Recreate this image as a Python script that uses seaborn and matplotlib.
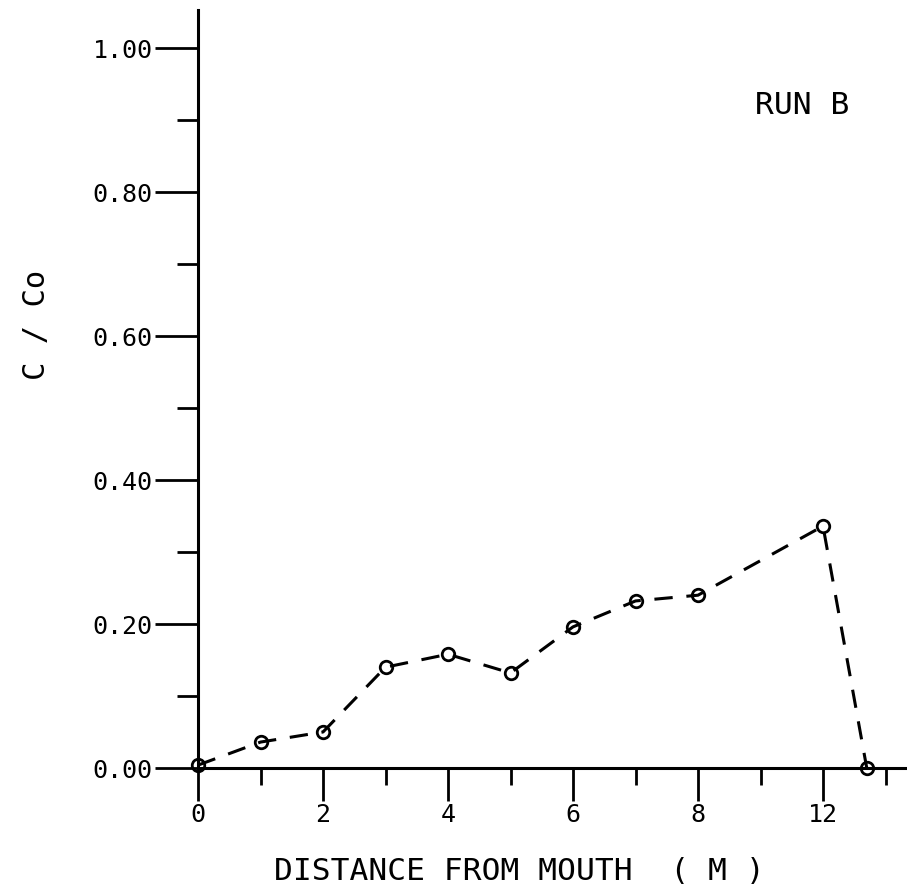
import matplotlib
matplotlib.use("Agg")
import matplotlib.pyplot as plt
import seaborn as sns
import pandas as pd

# data
distance = [0, 1, 2, 3, 4, 5, 6, 7, 8, 10, 10.7]
c_over_co = [0.004, 0.036, 0.050, 0.140, 0.158, 0.132, 0.196, 0.232, 0.240, 0.336, 0.0]
x_major = [0, 2, 4, 6, 8, 10]
x_major_labels = ["0", "2", "4", "6", "8", "12"]
x_minor = [1, 3, 5, 7, 9, 11]
y_major = [0.0, 0.2, 0.4, 0.6, 0.8, 1.0]
y_major_labels = ["0.00", "0.20", "0.40", "0.60", "0.80", "1.00"]
y_minor = [0.1, 0.3, 0.5, 0.7, 0.9]

sns.set_style("ticks")
plt.rcParams["font.family"] = ["DejaVu Sans Mono", "DejaVu Sans"]
plt.rcParams["text.color"] = "black"

W, H = 907, 894
fig = plt.figure(figsize=(W / 100, H / 100), dpi=100)
left, right, bottom, top = 198, 907, 768, 10
ax = fig.add_axes([left / W, 1 - bottom / H, (right - left) / W, (bottom - top) / H])

df = pd.DataFrame({"distance": distance, "c": c_over_co})
sns.lineplot(data=df, x="distance", y="c", ax=ax, sort=False, color="black",
             linewidth=2.2, linestyle=(0, (6, 4.5)), marker="o", markersize=9,
             markerfacecolor="none", markeredgecolor="black", markeredgewidth=2.0,
             clip_on=False)

ax.set_xlim(0, (right - left) / 62.5)
ax.set_ylim(0, (bottom - top) / 720)

for s in ["top", "right"]:
    ax.spines[s].set_visible(False)
for s in ["left", "bottom"]:
    ax.spines[s].set_linewidth(2.2)
    ax.spines[s].set_color("black")

ax.set_xticks(x_major)
ax.set_xticklabels(x_major_labels)
ax.set_xticks(x_minor, minor=True)
ax.set_yticks(y_major)
ax.set_yticklabels(y_major_labels)
ax.set_yticks(y_minor, minor=True)

ax.tick_params(axis="x", which="major", direction="out", length=24, width=2.0, pad=1, labelsize=18, colors="black")
ax.tick_params(axis="x", which="minor", direction="out", length=12, width=2.0, colors="black")
ax.tick_params(axis="y", which="major", direction="out", length=31, width=2.0, pad=1.5, labelsize=18, colors="black")
ax.tick_params(axis="y", which="minor", direction="out", length=15, width=2.0, colors="black")

ax.set_xlabel("")
ax.set_ylabel("")

fig.text(519 / W, 1 - 871 / H, "DISTANCE FROM MOUTH  ( M )", ha="center", va="center", fontsize=22.5, color="black")
fig.text(36 / W, 1 - 325 / H, "C / Co", rotation=90, ha="center", va="center", fontsize=22, color="black")
fig.text(755 / W, 1 - 105 / H, "RUN B", ha="left", va="center", fontsize=22.5, color="black")

fig.savefig("out.png", dpi=100)
